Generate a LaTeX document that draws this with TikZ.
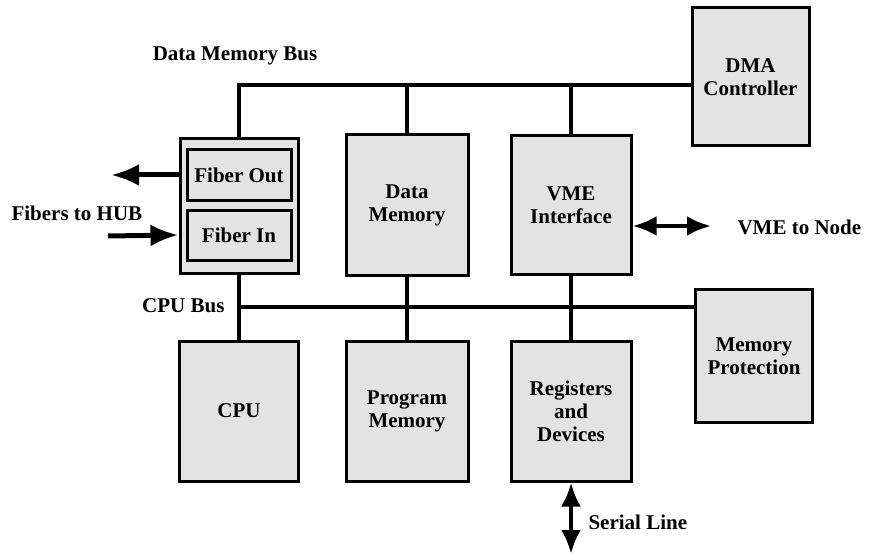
\documentclass[tikz,border=0pt]{standalone}
\usepackage{fontspec}
\setmainfont{Liberation Serif}
\usetikzlibrary{arrows.meta,positioning}

\begin{document}
\begin{tikzpicture}[
    x=1pt, y=-1pt,
    font=\fontsize{21}{23}\selectfont\bfseries,
    box/.style={draw, line width=3pt, align=center, fill=gray!22, inner sep=2pt},
    inbox/.style={box, minimum width=104pt, minimum height=50pt},
    bus/.style={line width=3.4pt},
    arrow/.style={-{Latex[length=28pt, width=22pt]}, line width=5pt},
    darrow/.style={{Latex[length=24pt, width=20pt]}-{Latex[length=24pt, width=20pt]}, line width=4.4pt}
]
\useasboundingbox (0,0) rectangle (872,556);

\node[box, minimum width=118pt, minimum height=135pt] (fiber) at (239,206) {};
\node[inbox] (fibout) at (239,175) {Fiber Out};
\node[inbox] (fibin) at (239,235) {Fiber In};
\node[box, minimum width=122pt, minimum height=140pt] (dmem) at (407,205) {Data\\Memory};
\node[box, minimum width=120pt, minimum height=139pt] (vme) at (571,205) {VME\\Interface};
\node[box, minimum width=117pt, minimum height=138pt] (dma) at (750.5,77) {DMA\\Controller};
\node[box, minimum width=117pt, minimum height=133pt] (memprot) at (754,356) {Memory\\Protection};
\node[box, minimum width=119pt, minimum height=140pt] (cpu) at (239,411) {CPU};
\node[box, minimum width=122pt, minimum height=140pt] (pmem) at (407,411) {Program\\Memory};
\node[box, minimum width=120pt, minimum height=140pt] (regs) at (571,411) {Registers\\and\\Devices};

\coordinate (dmb) at (239,85);
\coordinate (cb) at (239,307);
\coordinate (hubout) at (111,175);
\coordinate (hubin) at (108,236);
\coordinate (node) at (711,226);
\coordinate (serial) at (571,554);

\node (dmblabel) at (235,56) {Data Memory Bus};
\node[anchor=east] (cblabel) at (228,306) {CPU Bus};
\node[anchor=west] (hublabel) at (8,213) {Fibers to HUB};
\node[anchor=west] (nodelabel) at (734,227) {VME to Node};
\node[anchor=west] (seriallabel) at (585,522) {Serial Line};

\draw[bus] (fiber.north) -- (dmb) -- (dmb -| dma.west);
\draw[bus] (dmem.north) -- (dmem.north |- dmb);
\draw[bus] (vme.north) -- (vme.north |- dmb);
\draw[bus] (fiber.south) -- (cpu.north);
\draw[bus] (cb) -- (cb -| memprot.west);
\draw[bus] (dmem.south) -- (pmem.north);
\draw[bus] (vme.south) -- (regs.north);

\draw[arrow] (fibout.west -| fiber.west) -- (hubout);
\draw[arrow] (hubin) -- (fibin.west -| fiber.west);
\draw[darrow] (vme.east |- node) -- (node);
\draw[darrow] (regs.south) -- (serial);
\end{tikzpicture}
\end{document}
